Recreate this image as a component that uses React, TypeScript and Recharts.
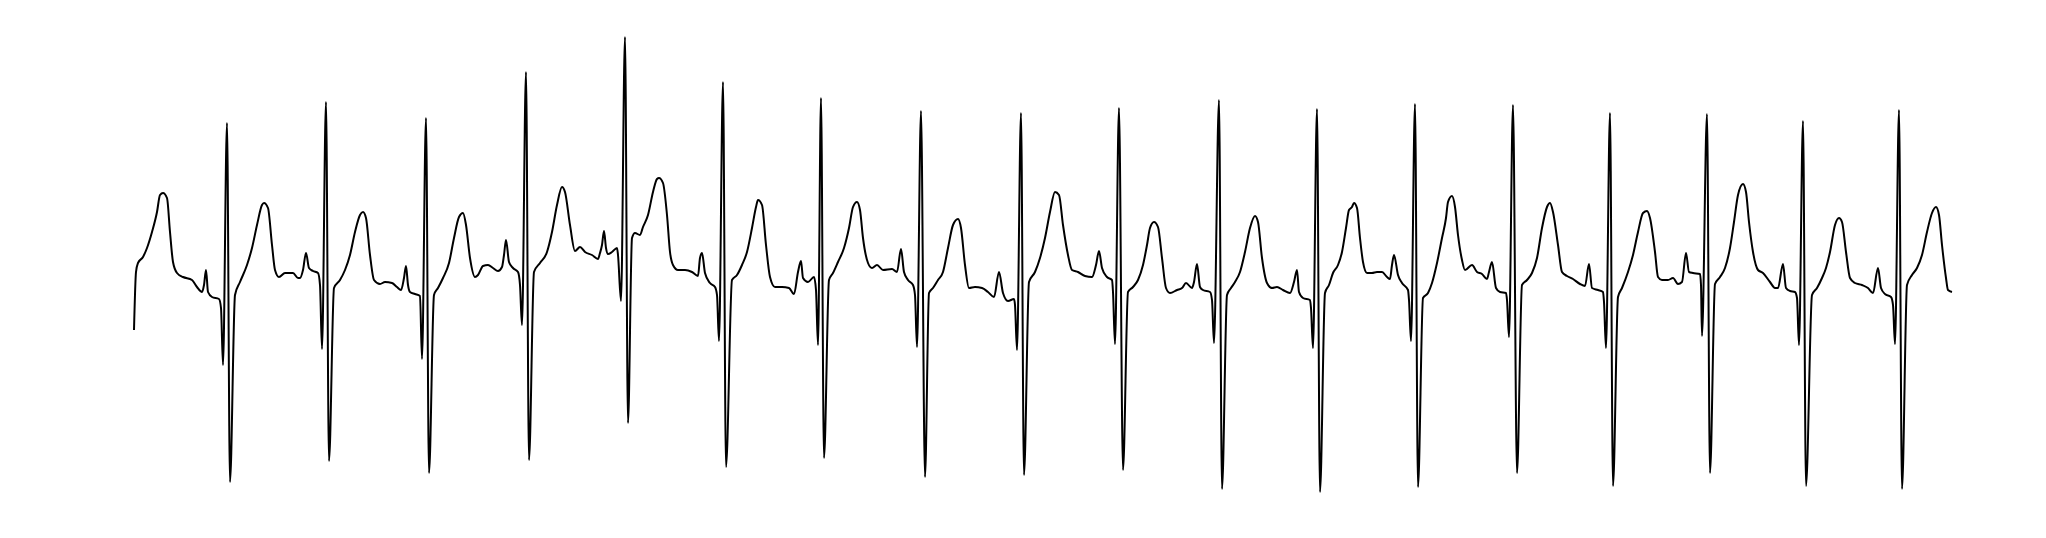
import { LineChart, Line, XAxis, YAxis } from 'recharts';

// ECG trace: [sample index, amplitude in mV]
const beat01 = [[0, -0.4], [2, 0.18], [4, 0.27], [9, 0.33], [13, 0.42], [18, 0.58], [23, 0.78], [26, 0.95], [29, 0.97], [33, 0.92], [36, 0.58], [39, 0.28], [43, 0.17], [49, 0.13], [58, 0.1], [63, 0.03], [68, -0.02], [70, 0.05], [72, 0.2], [74, -0.02], [78, -0.07], [85, -0.09], [87, -0.18], [89, -0.75], [93, 1.67], [96, -1.92]];
const beat02 = [[101, -0.05], [106, 0.08], [113, 0.25], [118, 0.42], [123, 0.65], [128, 0.85], [130, 0.87], [134, 0.82], [138, 0.45], [141, 0.2], [145, 0.13], [151, 0.17], [159, 0.17], [164, 0.12], [166, 0.12], [169, 0.2], [172, 0.37], [175, 0.22], [179, 0.19], [184, 0.17], [186, 0.05], [188, -0.59], [192, 1.88], [195, -1.71]];
const beat03 = [[200, 0.02], [206, 0.1], [211, 0.2], [216, 0.35], [221, 0.58], [226, 0.75], [229, 0.78], [232, 0.72], [236, 0.35], [240, 0.1], [246, 0.06], [251, 0.08], [258, 0.07], [263, 0.03], [267, 0.0], [270, 0.12], [272, 0.24], [274, 0.05], [276, -0.02], [281, -0.04], [286, -0.06], [288, -0.69], [292, 1.72], [295, -1.83]];
const beat04 = [[300, -0.05], [304, 0.02], [309, 0.12], [315, 0.27], [320, 0.52], [325, 0.73], [329, 0.77], [332, 0.65], [336, 0.32], [341, 0.13], [344, 0.15], [349, 0.24], [354, 0.25], [359, 0.22], [364, 0.19], [368, 0.23], [370, 0.35], [372, 0.5], [375, 0.28], [379, 0.22], [384, 0.18], [386, 0.05], [388, -0.35], [392, 2.18], [395, -1.7]];
const beat05 = [[400, 0.18], [406, 0.27], [413, 0.38], [418, 0.58], [423, 0.85], [428, 1.03], [431, 0.98], [436, 0.65], [441, 0.39], [446, 0.43], [451, 0.38], [458, 0.35], [464, 0.31], [466, 0.37], [468, 0.45], [470, 0.59], [472, 0.42], [474, 0.36], [478, 0.38], [483, 0.42], [484, 0.35], [487, -0.11], [491, 2.53], [494, -1.33]];
const beat06 = [[498, 0.52], [501, 0.57], [506, 0.55], [509, 0.63], [514, 0.75], [519, 0.98], [523, 1.11], [525, 1.12], [529, 1.07], [533, 0.75], [536, 0.38], [539, 0.25], [544, 0.2], [551, 0.2], [558, 0.18], [564, 0.14], [566, 0.32], [568, 0.37], [571, 0.17], [576, 0.07], [581, 0.03], [583, -0.05], [585, -0.51], [589, 2.08], [592, -1.77]];
const beat07 = [[598, 0.1], [603, 0.15], [608, 0.25], [613, 0.38], [618, 0.62], [622, 0.83], [624, 0.9], [628, 0.85], [632, 0.45], [636, 0.13], [641, 0.03], [648, 0.03], [655, 0.02], [660, -0.04], [664, 0.18], [667, 0.29], [669, 0.12], [674, 0.08], [680, 0.13], [682, 0.0], [684, -0.55], [687, 1.92], [690, -1.68]];
const beat08 = [[695, 0.1], [699, 0.17], [704, 0.28], [710, 0.42], [715, 0.62], [719, 0.83], [723, 0.88], [726, 0.8], [729, 0.52], [734, 0.27], [738, 0.22], [743, 0.25], [749, 0.2], [758, 0.21], [763, 0.18], [767, 0.41], [770, 0.18], [774, 0.1], [779, 0.05], [781, -0.05], [783, -0.57], [787, 1.79], [791, -1.87]];
const beat09 = [[795, -0.03], [799, 0.02], [804, 0.1], [809, 0.18], [814, 0.42], [819, 0.65], [824, 0.71], [827, 0.62], [831, 0.25], [835, 0.02], [841, 0.03], [848, 0.02], [854, -0.02], [860, -0.07], [865, 0.18], [869, -0.03], [874, -0.11], [880, -0.09], [881, -0.15], [883, -0.6], [887, 1.77], [890, -1.85]];
const beat10 = [[895, 0.08], [901, 0.18], [906, 0.32], [911, 0.52], [916, 0.78], [921, 0.98], [925, 0.95], [929, 0.65], [934, 0.35], [938, 0.2], [944, 0.18], [951, 0.14], [958, 0.13], [962, 0.25], [965, 0.39], [968, 0.22], [973, 0.13], [978, 0.1], [979, -0.02], [981, -0.54], [985, 1.82], [989, -1.8]];
const beat11 = [[994, -0.02], [999, 0.03], [1004, 0.1], [1009, 0.25], [1013, 0.45], [1016, 0.62], [1020, 0.68], [1024, 0.63], [1028, 0.32], [1032, 0.02], [1036, -0.03], [1043, 0.0], [1048, 0.02], [1052, 0.07], [1058, 0.02], [1060, 0.08], [1063, 0.26], [1066, 0.03], [1069, 0.0], [1076, -0.02], [1078, -0.1], [1080, -0.53], [1085, 1.9], [1088, -1.99]];
const beat12 = [[1093, -0.05], [1097, 0.02], [1101, 0.08], [1106, 0.18], [1111, 0.38], [1116, 0.62], [1121, 0.74], [1124, 0.68], [1128, 0.32], [1133, 0.07], [1138, 0.02], [1143, 0.03], [1149, 0.0], [1156, -0.03], [1160, 0.08], [1163, 0.2], [1165, -0.02], [1169, -0.08], [1176, -0.1], [1177, -0.18], [1179, -0.58], [1183, 1.81], [1186, -2.02]];
const beat13 = [[1191, -0.03], [1195, 0.05], [1199, 0.17], [1204, 0.25], [1208, 0.38], [1212, 0.62], [1215, 0.8], [1218, 0.83], [1220, 0.87], [1223, 0.82], [1226, 0.52], [1229, 0.28], [1233, 0.17], [1238, 0.17], [1243, 0.18], [1248, 0.18], [1253, 0.13], [1256, 0.11], [1258, 0.25], [1260, 0.35], [1264, 0.15], [1268, 0.07], [1274, 0.0], [1275, -0.1], [1277, -0.51], [1281, 1.86], [1284, -1.97]];
const beat14 = [[1289, -0.08], [1294, -0.03], [1298, 0.07], [1303, 0.27], [1308, 0.52], [1312, 0.72], [1314, 0.88], [1318, 0.94], [1321, 0.83], [1324, 0.55], [1328, 0.3], [1331, 0.2], [1338, 0.25], [1343, 0.18], [1348, 0.16], [1353, 0.11], [1355, 0.18], [1358, 0.28], [1362, 0.02], [1366, -0.02], [1372, -0.03], [1373, -0.1], [1375, -0.47], [1379, 1.85], [1383, -1.83]];
const beat15 = [[1388, 0.05], [1393, 0.1], [1398, 0.17], [1403, 0.32], [1408, 0.62], [1413, 0.83], [1416, 0.87], [1419, 0.78], [1424, 0.45], [1428, 0.18], [1433, 0.14], [1439, 0.11], [1446, 0.06], [1451, 0.04], [1455, 0.26], [1458, 0.02], [1464, 0.0], [1469, -0.02], [1470, -0.12], [1472, -0.58], [1476, 1.77], [1479, -1.96]];
const beat16 = [[1484, -0.07], [1488, 0.02], [1494, 0.18], [1499, 0.35], [1504, 0.58], [1509, 0.77], [1513, 0.79], [1516, 0.72], [1521, 0.38], [1524, 0.13], [1528, 0.1], [1534, 0.1], [1539, 0.12], [1544, 0.06], [1548, 0.08], [1552, 0.37], [1555, 0.18], [1559, 0.17], [1566, 0.16], [1567, 0.05], [1568, -0.46], [1573, 1.76], [1576, -1.83]];
const beat17 = [[1581, 0.06], [1586, 0.13], [1591, 0.22], [1596, 0.42], [1600, 0.68], [1604, 0.95], [1609, 1.06], [1612, 0.98], [1615, 0.68], [1619, 0.38], [1624, 0.2], [1629, 0.17], [1636, 0.08], [1641, 0.02], [1644, 0.02], [1649, 0.26], [1652, 0.02], [1656, -0.01], [1661, -0.02], [1663, -0.08], [1665, -0.55], [1669, 1.69], [1672, -1.96]];
const beat18 = [[1678, -0.05], [1683, 0.02], [1688, 0.12], [1692, 0.22], [1696, 0.38], [1701, 0.65], [1705, 0.72], [1708, 0.68], [1712, 0.38], [1716, 0.12], [1721, 0.07], [1728, 0.05], [1734, 0.02], [1739, -0.03], [1744, 0.22], [1747, 0.02], [1751, -0.04], [1757, -0.07], [1759, -0.15], [1761, -0.54], [1765, 1.8], [1768, -1.99]];
const tail = [[1773, 0.05], [1778, 0.15], [1783, 0.22], [1788, 0.35], [1793, 0.58], [1798, 0.77], [1802, 0.83], [1805, 0.75], [1808, 0.45], [1812, 0.12], [1814, 0.0], [1818, -0.02]];

const trace = [
    ...beat01, ...beat02, ...beat03, ...beat04, ...beat05, ...beat06,
    ...beat07, ...beat08, ...beat09, ...beat10, ...beat11, ...beat12,
    ...beat13, ...beat14, ...beat15, ...beat16, ...beat17, ...beat18, ...tail,
].map(([t, mv]) => ({ t, mv }));

export default function App() {
    return (
        <div style={{ position: 'absolute', left: 0, top: 0, background: '#fff' }}>
            <LineChart width={2046} height={538} data={trace} margin={{ top: 0, right: 0, bottom: 0, left: 0 }}>
                <XAxis dataKey="t" type="number" domain={[-134, 1912]} hide allowDataOverflow />
                <YAxis type="number" domain={[-2.48, 2.9]} hide allowDataOverflow />
                <Line
                    type="monotone"
                    dataKey="mv"
                    stroke="#000"
                    strokeWidth={2}
                    dot={false}
                    activeDot={false}
                    isAnimationActive={false}
                />
            </LineChart>
        </div>
    );
}
